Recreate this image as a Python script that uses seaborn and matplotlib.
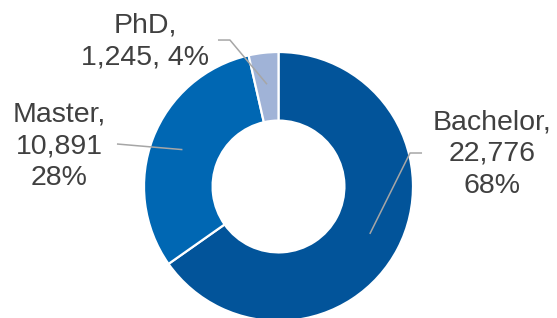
import numpy as np
import seaborn as sns
import matplotlib.pyplot as plt

# data
degrees = ['Bachelor', 'Master', 'PhD']
counts = [22776, 10891, 1245]
pct_labels = ['68%', '28%', '4%']
colors = ['#02549A', '#0067B3', '#A0B3D7']

sns.set_style('white')
plt.rcParams['font.family'] = ['Liberation Sans', 'DejaVu Sans']

fig = plt.figure(figsize=(5.57, 3.18), dpi=100)
ax = fig.add_axes([0, 0, 1, 1])

wedges, _ = ax.pie(counts, radius=1, startangle=90, counterclock=False, colors=colors,
                   wedgeprops=dict(width=0.51, edgecolor='white', linewidth=1.6))

ax.set_aspect('equal')
ax.set_xlim(-2.0706, 2.0706)
ax.set_ylim(-0.9777, 1.3866)
ax.axis('off')

labels = ['{},\n{:,}\n{}'.format(degrees[0], counts[0], pct_labels[0]),
          '{},\n{:,}\n{}'.format(degrees[1], counts[1], pct_labels[1]),
          '{},\n{:,}, {}'.format(degrees[2], counts[2], pct_labels[2])]

# label block centres and leader elbows (layout only)
text_pos = [(1.585, 0.242), (-1.632, 0.301), (-0.993, 1.078)]
leader_start = [(1.067, 0.249), (-1.201, 0.316), (-0.450, 1.089)]
leader_elbow = [(0.978, 0.249), None, (-0.361, 1.089)]

for w, lab, tp, st, el in zip(wedges, labels, text_pos, leader_start, leader_elbow):
    mid = np.deg2rad((w.theta1 + w.theta2) / 2)
    end = (0.765 * np.cos(mid), 0.765 * np.sin(mid))
    pts = [st] + ([el] if el else []) + [end]
    ax.plot([p[0] for p in pts], [p[1] for p in pts], color='#A6A6A6', lw=1.1,
            solid_capstyle='butt')
    ax.text(tp[0], tp[1], lab, ha='center', va='center', fontsize=20.5,
            linespacing=1.28, color='#404040')

fig.savefig('out.png', dpi=100)
